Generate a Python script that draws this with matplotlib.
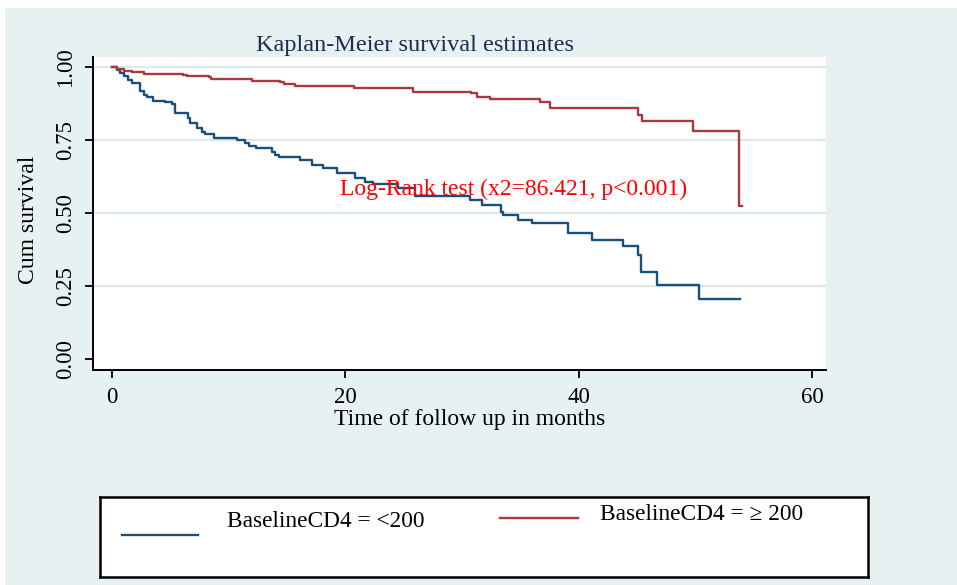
import matplotlib
matplotlib.use("Agg")
import matplotlib.pyplot as plt
from matplotlib.patches import Rectangle
from matplotlib.lines import Line2D

plt.rcParams['font.family'] = ['Liberation Serif', 'DejaVu Serif']

# Kaplan-Meier step estimates (months, cum. survival)
t_low = [0, 0.4, 0.7, 1.0, 1.4, 1.7, 2.4, 2.7, 3.0, 3.5, 4.5, 5.1, 5.4,
         6.5, 6.7, 7.3, 7.7, 8.0, 8.7, 10.7, 11.4, 11.7, 12.3, 13.7, 14.0,
         14.3, 16.1, 17.1, 18.1, 19.3, 20.8, 21.7, 22.4, 24.5, 26.0, 30.7,
         31.7, 33.3, 33.5, 34.8, 36.0, 39.1, 41.1, 43.8, 45.1, 45.3, 46.7,
         50.3, 53.8]
s_low = [1.0, 0.99, 0.978, 0.969, 0.955, 0.944, 0.916, 0.904, 0.896, 0.884,
         0.881, 0.873, 0.841, 0.824, 0.807, 0.792, 0.778, 0.771, 0.756, 0.75,
         0.741, 0.729, 0.721, 0.71, 0.699, 0.691, 0.682, 0.664, 0.653, 0.636,
         0.621, 0.607, 0.599, 0.585, 0.558, 0.545, 0.527, 0.504, 0.493, 0.476,
         0.465, 0.43, 0.408, 0.385, 0.356, 0.299, 0.253, 0.204, 0.204]

t_high = [0, 0.4, 1.0, 1.7, 2.3, 2.7, 6.1, 6.4, 8.3, 8.5, 11.3, 12.0, 14.4,
          14.7, 15.7, 20.7, 25.8, 30.8, 31.3, 32.4, 36.7, 37.5, 45.1, 45.4,
          49.8, 53.7, 54.0]
s_high = [1.0, 0.993, 0.987, 0.984, 0.981, 0.976, 0.973, 0.969, 0.965, 0.959,
          0.957, 0.953, 0.949, 0.942, 0.933, 0.927, 0.915, 0.909, 0.898, 0.889,
          0.881, 0.858, 0.836, 0.816, 0.782, 0.522, 0.522]

labels = ['BaselineCD4 = <200', 'BaselineCD4 = \u2265 200']
blue = '#1a4f7c'
red = '#a8393f'
bg = '#e8f1f1'
gridc = '#dde8e8'

fig = plt.figure(figsize=(9.57, 5.85), dpi=100, facecolor='white')
fig.patches.append(Rectangle((5 / 957, 0), 1, 1 - 8 / 585, transform=fig.transFigure,
                             facecolor=bg, edgecolor='none', zorder=-10))

ax = fig.add_axes([93 / 957, 215 / 585, 733 / 957, 313 / 585])
ax.set_facecolor('white')
ax.step(t_low, s_low, where='post', color=blue, lw=1.7, zorder=3)
ax.step(t_high, s_high, where='post', color=red, lw=1.7, zorder=3)

ax.set_xlim(-1.63, 61.2)
ax.set_ylim(-0.038, 1.034)
ax.set_xticks([0, 20, 40, 60])
ax.set_yticks([0, 0.25, 0.5, 0.75, 1.0])
ax.set_yticklabels(['0.00', '0.25', '0.50', '0.75', '1.00'], rotation=90, va='center')
for y in [0.25, 0.5, 0.75, 1.0]:
    ax.axhline(y, color=gridc, lw=1.6, zorder=1)

for s in ['top', 'right']:
    ax.spines[s].set_visible(False)
for s in ['left', 'bottom']:
    ax.spines[s].set_linewidth(1.4)
ax.tick_params(direction='out', length=6, width=1.3, labelsize=16.5, pad=6)

ax.set_xlabel('Time of follow up in months', fontsize=17)
ax.xaxis.set_label_coords(0.514, -0.125)
ax.set_ylabel('Cum survival', fontsize=17)
ax.yaxis.set_label_coords(-0.074, 0.479)

ax.text(19.5, 0.58, 'Log-Rank test (x2=86.421, p<0.001)', color='red',
        fontsize=17, va='center', ha='left', zorder=4)

fig.text(415 / 957, 540 / 585, 'Kaplan-Meier survival estimates', color='#1e2d55',
         fontsize=17.5, ha='center', va='center')

# legend box drawn as its own axes
lg = fig.add_axes([100 / 957, 8 / 585, 768 / 957, 80 / 585])
lg.set_xlim(0, 1)
lg.set_ylim(0, 1)
lg.set_xticks([])
lg.set_yticks([])
lg.set_facecolor('white')
for s in lg.spines.values():
    s.set_linewidth(1.8)
lg.add_line(Line2D([0.0286, 0.1276], [0.525, 0.525], color=blue, lw=1.7))
lg.text(0.165, 0.69, labels[0], fontsize=16.8, va='center', ha='left')
lg.add_line(Line2D([0.521, 0.622], [0.74, 0.74], color=red, lw=1.7))
lg.text(0.651, 0.78, labels[1], fontsize=16.8, va='center', ha='left')

fig.savefig('out.png', dpi=100, facecolor=fig.get_facecolor())
